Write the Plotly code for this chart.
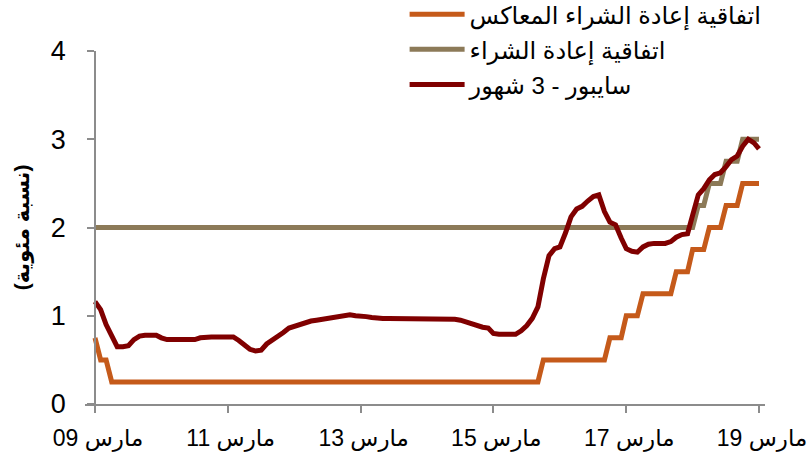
import pandas as pd
import plotly.graph_objects as go

# Monthly observations, March 2009 .. March 2019
dates = pd.date_range("2009-03-01", periods=121, freq="MS")

reverse_repo = [
    0.75, 0.50, 0.50, 0.25, 0.25, 0.25, 0.25, 0.25, 0.25, 0.25, 0.25, 0.25,
    0.25, 0.25, 0.25, 0.25, 0.25, 0.25, 0.25, 0.25, 0.25, 0.25, 0.25, 0.25,
    0.25, 0.25, 0.25, 0.25, 0.25, 0.25, 0.25, 0.25, 0.25, 0.25, 0.25, 0.25,
    0.25, 0.25, 0.25, 0.25, 0.25, 0.25, 0.25, 0.25, 0.25, 0.25, 0.25, 0.25,
    0.25, 0.25, 0.25, 0.25, 0.25, 0.25, 0.25, 0.25, 0.25, 0.25, 0.25, 0.25,
    0.25, 0.25, 0.25, 0.25, 0.25, 0.25, 0.25, 0.25, 0.25, 0.25, 0.25, 0.25,
    0.25, 0.25, 0.25, 0.25, 0.25, 0.25, 0.25, 0.25, 0.25, 0.50, 0.50, 0.50,
    0.50, 0.50, 0.50, 0.50, 0.50, 0.50, 0.50, 0.50, 0.50, 0.75, 0.75, 0.75,
    1.00, 1.00, 1.00, 1.25, 1.25, 1.25, 1.25, 1.25, 1.25, 1.50, 1.50, 1.50,
    1.75, 1.75, 1.75, 2.00, 2.00, 2.00, 2.25, 2.25, 2.25, 2.50, 2.50, 2.50,
    2.50,
]

repo = [
    2.00, 2.00, 2.00, 2.00, 2.00, 2.00, 2.00, 2.00, 2.00, 2.00, 2.00, 2.00,
    2.00, 2.00, 2.00, 2.00, 2.00, 2.00, 2.00, 2.00, 2.00, 2.00, 2.00, 2.00,
    2.00, 2.00, 2.00, 2.00, 2.00, 2.00, 2.00, 2.00, 2.00, 2.00, 2.00, 2.00,
    2.00, 2.00, 2.00, 2.00, 2.00, 2.00, 2.00, 2.00, 2.00, 2.00, 2.00, 2.00,
    2.00, 2.00, 2.00, 2.00, 2.00, 2.00, 2.00, 2.00, 2.00, 2.00, 2.00, 2.00,
    2.00, 2.00, 2.00, 2.00, 2.00, 2.00, 2.00, 2.00, 2.00, 2.00, 2.00, 2.00,
    2.00, 2.00, 2.00, 2.00, 2.00, 2.00, 2.00, 2.00, 2.00, 2.00, 2.00, 2.00,
    2.00, 2.00, 2.00, 2.00, 2.00, 2.00, 2.00, 2.00, 2.00, 2.00, 2.00, 2.00,
    2.00, 2.00, 2.00, 2.00, 2.00, 2.00, 2.00, 2.00, 2.00, 2.00, 2.00, 2.00,
    2.00, 2.25, 2.25, 2.50, 2.50, 2.50, 2.75, 2.75, 2.75, 3.00, 3.00, 3.00,
    3.00,
]

saibor_3m = [
    1.16, 1.07, 0.90, 0.76, 0.65, 0.65, 0.66, 0.73, 0.77, 0.78, 0.78, 0.78,
    0.75, 0.73, 0.73, 0.73, 0.73, 0.72, 0.73, 0.75, 0.76, 0.76, 0.76, 0.76,
    0.76, 0.76, 0.72, 0.67, 0.62, 0.60, 0.61, 0.68, 0.72, 0.77, 0.81, 0.86,
    0.88, 0.91, 0.92, 0.94, 0.95, 0.96, 0.98, 0.99, 1.00, 1.00, 1.01, 1.00,
    1.00, 0.99, 0.98, 0.97, 0.97, 0.97, 0.97, 0.97, 0.97, 0.97, 0.97, 0.97,
    0.97, 0.96, 0.97, 0.97, 0.96, 0.96, 0.95, 0.93, 0.91, 0.88, 0.87, 0.86,
    0.80, 0.79, 0.79, 0.79, 0.79, 0.83, 0.89, 0.97, 1.10, 1.42, 1.68, 1.76,
    1.78, 1.94, 2.12, 2.21, 2.24, 2.30, 2.35, 2.37, 2.18, 2.06, 2.03, 1.88,
    1.76, 1.73, 1.72, 1.78, 1.81, 1.82, 1.82, 1.82, 1.84, 1.89, 1.92, 1.93,
    2.14, 2.37, 2.44, 2.54, 2.60, 2.62, 2.69, 2.77, 2.81, 2.92, 3.00, 2.96,
    2.89,
]

series_names = [
    "اتفاقية إعادة الشراء المعاكس",
    "اتفاقية إعادة الشراء",
    "سايبور - 3 شهور",
]
series_colors = ["#C55A1A", "#8C7A58", "#800000"]

tick_dates = ["2009-03-01", "2011-03-01", "2013-03-01", "2015-03-01", "2017-03-01", "2019-03-01"]
tick_labels = ["مارس 09", "مارس 11", "مارس 13", "مارس 15", "مارس 17", "مارس 19"]
y_title = "<b>(نسبة مئوية)</b>"

FONT = "Liberation Sans, Arial, DejaVu Sans, sans-serif"
AXIS_GREY = "#8C8C8C"

fig = go.Figure()
for name, vals, col in zip(series_names, [reverse_repo, repo, saibor_3m], series_colors):
    fig.add_trace(go.Scatter(
        x=dates, y=vals, name=name, mode="lines",
        line=dict(color=col, width=5), legendgroup=name,
    ))

fig.update_layout(
    width=808, height=457,
    margin=dict(l=85, r=43, t=51, b=53, autoexpand=False),
    paper_bgcolor="white", plot_bgcolor="white",
    font=dict(family=FONT, color="#000000"),
    showlegend=True,
    legend=dict(
        x=0.47, y=1.167, xanchor="left", yanchor="top",
        font=dict(size=24, family=FONT, color="#000000"),
        bgcolor="rgba(0,0,0,0)", tracegroupgap=1, itemwidth=55,
    ),
    xaxis=dict(
        type="date",
        range=["2009-01-05", "2019-04-03"],
        tickmode="array", tickvals=tick_dates, ticktext=tick_labels,
        ticks="outside", ticklen=7, tickcolor=AXIS_GREY, tickwidth=1.5,
        showline=True, linecolor=AXIS_GREY, linewidth=1.5,
        showgrid=False, zeroline=False,
        tickfont=dict(size=23, family=FONT, color="#000000"),
        ticklabelstandoff=6, ticklabelshift=3, ticklabeloverflow="allow",
    ),
    yaxis=dict(
        range=[0, 4], tickvals=[0, 1, 2, 3, 4],
        anchor="free", position=(95 - 85) / 680,
        ticks="outside", ticklen=7, tickcolor=AXIS_GREY, tickwidth=1.5,
        showline=True, linecolor=AXIS_GREY, linewidth=1.5,
        showgrid=False, zeroline=False,
        tickfont=dict(size=27, family=FONT, color="#000000"),
        title=dict(text=y_title, font=dict(size=21, family=FONT, color="#000000"), standoff=14),
        ticklabelstandoff=16,
    ),
)

fig.write_html(
    "out.html",
    config={"displayModeBar": False},
    post_script="document.body.style.margin='0';document.body.style.overflow='hidden';",
)
